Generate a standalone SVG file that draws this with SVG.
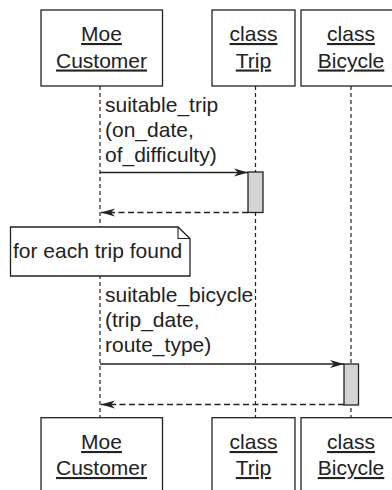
<svg xmlns="http://www.w3.org/2000/svg" width="392" height="490" viewBox="0 0 392 490">
<style>
.box{fill:#fff;stroke:#222;stroke-width:1.3}
.lbl{font-family:"Liberation Sans",Arial,sans-serif;font-size:21px;fill:#222;text-anchor:middle;text-decoration:underline}
.msg{font-family:"Liberation Sans",Arial,sans-serif;font-size:21px;fill:#222}
.life{stroke:#222;stroke-width:1.2;stroke-dasharray:4 3;fill:none}
.call{stroke:#222;stroke-width:1.3;fill:none;marker-end:url(#ah)}
.ret{stroke:#222;stroke-width:1.3;fill:none;stroke-dasharray:6 3.5;marker-end:url(#ah)}
.act{fill:#d4d4d4;stroke:#222;stroke-width:1.3}
</style>
<defs>
<marker id="ah" viewBox="-15 -5 16 10" refX="0" refY="0" markerWidth="16" markerHeight="10" markerUnits="userSpaceOnUse" orient="auto">
<path d="M0,0 L-14,-4 L-10,0 L-14,4 Z" fill="#222"/>
</marker>
</defs>
<g id="lifelines">
<line class="life" x1="100" y1="86" x2="100" y2="418"/>
<line class="life" x1="255.5" y1="86" x2="255.5" y2="418"/>
<line class="life" x1="351" y1="86" x2="351" y2="418"/>
</g>
<g id="moe-top"><rect class="box" x="41" y="10" width="121.5" height="76"/>
<text class="lbl" x="101.5" y="41">Moe</text><text class="lbl" x="101.5" y="67.5">Customer</text></g>
<g id="trip-top"><rect class="box" x="212" y="10" width="83" height="76"/>
<text class="lbl" x="253.5" y="41">class</text><text class="lbl" x="253.5" y="67.5">Trip</text></g>
<g id="bicycle-top"><rect class="box" x="301" y="10" width="100" height="76"/>
<text class="lbl" x="351" y="41">class</text><text class="lbl" x="351" y="67.5">Bicycle</text></g>
<g id="trip-activation"><rect class="act" x="248" y="172" width="15" height="40.5"/></g>
<g id="bicycle-activation"><rect class="act" x="344" y="364" width="14.5" height="41"/></g>
<g id="connectors">
<line class="call" x1="100" y1="172.5" x2="248" y2="172.5"/>
<line class="ret" x1="248" y1="212.5" x2="101" y2="212.5"/>
<line class="call" x1="100" y1="364" x2="344" y2="364"/>
<line class="ret" x1="344" y1="404.5" x2="101" y2="404.5"/>
</g>
<g id="msg1"><text class="msg" x="105" y="112">suitable_trip</text>
<text class="msg" x="105" y="136.8">(on_date,</text>
<text class="msg" x="105" y="161.5">of_difficulty)</text></g>
<g id="note"><path class="box" d="M10.5,227 H178 L190,238.5 V276 H10.5 Z"/>
<path d="M178,227 V238.5 H190" fill="none" stroke="#222" stroke-width="1.1"/>
<text class="msg" x="13" y="258">for each trip found</text></g>
<g id="msg2"><text class="msg" x="105" y="301.7">suitable_bicycle</text>
<text class="msg" x="105" y="326.7">(trip_date,</text>
<text class="msg" x="105" y="351.7">route_type)</text></g>
<g id="moe-bottom"><rect class="box" x="41" y="417.7" width="121.5" height="80"/>
<text class="lbl" x="101.5" y="449">Moe</text><text class="lbl" x="101.5" y="475">Customer</text></g>
<g id="trip-bottom"><rect class="box" x="212" y="417.7" width="83" height="80"/>
<text class="lbl" x="253.5" y="449">class</text><text class="lbl" x="253.5" y="475">Trip</text></g>
<g id="bicycle-bottom"><rect class="box" x="301" y="417.7" width="100" height="80"/>
<text class="lbl" x="351" y="449">class</text><text class="lbl" x="351" y="475">Bicycle</text></g>
</svg>
